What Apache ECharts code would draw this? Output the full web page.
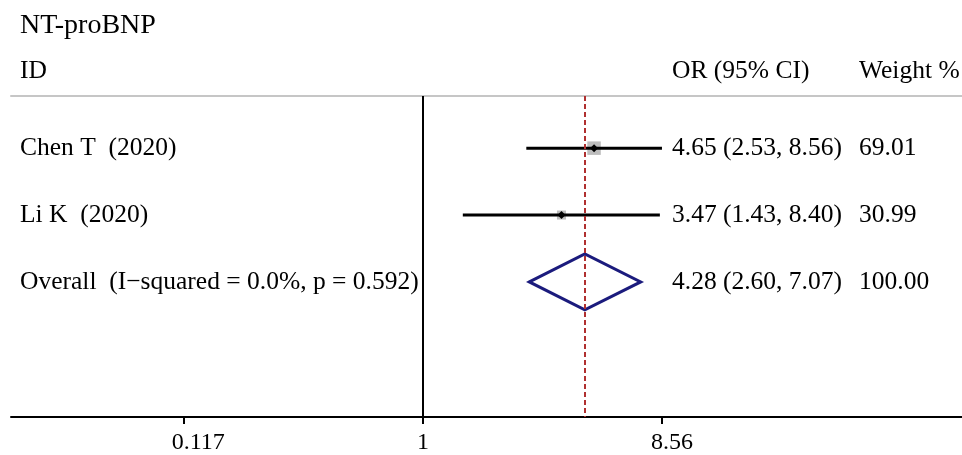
<!DOCTYPE html>
<html>
<head>
<meta charset="utf-8">
<script src="https://cdn.jsdelivr.net/npm/echarts@6/dist/echarts.min.js"></script>
<style>
  html, body { margin: 0; padding: 0; background: #fff; }
  #chart { width: 962px; height: 455px; }
</style>
</head>
<body>
<div id="chart"></div>
<script>
// Forest plot data: odds ratios with 95% confidence intervals
const studyNames = ['Chen T  (2020)', 'Li K  (2020)'];
const studyOR = [4.65, 3.47];
const studyLow = [2.53, 1.43];
const studyHigh = [8.56, 8.40];
const studyWeight = [69.01, 30.99];

const overallName = 'Overall  (I\u2212squared = 0.0%, p = 0.592)';
const overallOR = 4.28;
const overallLow = 2.60;
const overallHigh = 7.07;
const overallWeight = 100.00;

const tickValues = [0.117, 1, 8.56];
const tickLabels = ['0.117', '1', '8.56'];

const plotTitle = 'NT-proBNP';
const colId = 'ID';
const colEffect = 'OR (95% CI)';
const colWeight = 'Weight %';

// ---- styling ----
const FONT = '"Liberation Serif", "Times New Roman", serif';
const FS = 25.5;
const FS_TITLE = 28;
const FS_AXIS = 24;
const BOX_SCALE = 13.5 / Math.sqrt(69.01);   // box side grows with sqrt(weight)
const DIAMOND_HALF = 28;
const X_LEFT_TEXT = 20;
const X_EFFECT_TEXT = 672;
const X_WEIGHT_TEXT = 859;
const labelShift = { '0.117': 28, '1': 0, '8.56': 20 };

const fmt = v => v.toFixed(2);

// rows: [ln OR, ln low, ln high, row position, weight, kind]
const rows = [];
const rowText = [];
studyNames.forEach((name, i) => {
  rows.push([Math.log(studyOR[i]), Math.log(studyLow[i]), Math.log(studyHigh[i]), i, studyWeight[i], 0]);
  rowText.push({
    name: name,
    effect: fmt(studyOR[i]) + ' (' + fmt(studyLow[i]) + ', ' + fmt(studyHigh[i]) + ')',
    weight: fmt(studyWeight[i])
  });
});
rows.push([Math.log(overallOR), Math.log(overallLow), Math.log(overallHigh), studyNames.length, overallWeight, 1]);
rowText.push({
  name: overallName,
  effect: fmt(overallOR) + ' (' + fmt(overallLow) + ', ' + fmt(overallHigh) + ')',
  weight: fmt(overallWeight)
});

function textEl(str, x, y, size) {
  return {
    type: 'text',
    x: x, y: y,
    style: { text: str, font: (size || FS) + 'px ' + FONT, fill: '#000', verticalAlign: 'middle', align: 'left' }
  };
}

function renderRow(params, api) {
  const i = params.dataIndex;
  const pos = api.value(3);
  const w = api.value(4);
  const kind = api.value(5);
  const pc = api.coord([api.value(0), pos]);
  const pl = api.coord([api.value(1), pos]);
  const ph = api.coord([api.value(2), pos]);
  const y = pc[1];
  const children = [];
  if (kind === 0) {
    const s = BOX_SCALE * Math.sqrt(w);
    children.push({ type: 'rect', shape: { x: pc[0] - s / 2, y: y - s / 2, width: s, height: s }, style: { fill: '#bdbdbd' } });
    children.push({ type: 'line', shape: { x1: pl[0], y1: y, x2: ph[0], y2: y }, style: { stroke: '#000', lineWidth: 3 } });
    children.push({ type: 'polygon', shape: { points: [[pc[0] - 4, y], [pc[0], y - 4], [pc[0] + 4, y], [pc[0], y + 4]] }, style: { fill: '#000' } });
  } else {
    children.push({
      type: 'polygon',
      shape: { points: [[pl[0], y], [pc[0], y - DIAMOND_HALF], [ph[0], y], [pc[0], y + DIAMOND_HALF]] },
      style: { fill: 'none', stroke: '#1b1b7d', lineWidth: 3, lineJoin: 'miter' }
    });
  }
  children.push(textEl(rowText[i].name, X_LEFT_TEXT, y));
  children.push(textEl(rowText[i].effect, X_EFFECT_TEXT, y));
  children.push(textEl(rowText[i].weight, X_WEIGHT_TEXT, y));
  return { type: 'group', children: children };
}

const xMin = -3.702, xMax = 4.843;
const lnTicks = tickValues.map(v => Math.log(v));

const chart = echarts.init(document.getElementById('chart'), null, { renderer: 'canvas' });
chart.setOption({
  animation: false,
  backgroundColor: '#fff',
  grid: { left: 11, right: 0, top: 96, bottom: 34, containLabel: false },
  xAxis: [{
    type: 'value',
    min: xMin, max: xMax,
    splitLine: { show: false },
    axisLine: { show: true, onZero: false, lineStyle: { color: '#000', width: 2 } },
    axisTick: { show: true, length: 7, lineStyle: { color: '#000', width: 2 }, customValues: lnTicks },
    axisLabel: {
      show: true,
      margin: 14,
      customValues: lnTicks,
      fontFamily: FONT, fontSize: FS_AXIS, color: '#000',
      formatter: function (v) {
        let k = 0;
        lnTicks.forEach((t, j) => { if (Math.abs(t - v) < Math.abs(lnTicks[k] - v)) k = j; });
        return '{s' + k + '|' + tickLabels[k] + '}';
      },
      rich: {
        s0: { fontFamily: FONT, fontSize: FS_AXIS, color: '#000', padding: [0, 0, 0, labelShift['0.117']] },
        s1: { fontFamily: FONT, fontSize: FS_AXIS, color: '#000', padding: [0, 0, 0, labelShift['1']] },
        s2: { fontFamily: FONT, fontSize: FS_AXIS, color: '#000', padding: [0, 0, 0, labelShift['8.56']] }
      }
    }
  }, {
    type: 'value',
    position: 'top',
    min: xMin, max: xMax,
    splitLine: { show: false },
    axisLine: { show: true, onZero: false, lineStyle: { color: '#c6c6c6', width: 2 } },
    axisTick: { show: false },
    axisLabel: { show: false }
  }],
  yAxis: {
    type: 'value',
    inverse: true,
    min: -0.78, max: 4.02,
    show: false
  },
  graphic: [
    textEl(plotTitle, X_LEFT_TEXT, 26, FS_TITLE),
    textEl(colId, X_LEFT_TEXT, 71),
    textEl(colEffect, X_EFFECT_TEXT, 71),
    textEl(colWeight, X_WEIGHT_TEXT, 71)
  ],
  series: [{
    type: 'custom',
    clip: false,
    renderItem: renderRow,
    encode: { x: [0, 1, 2], y: 3 },
    data: rows,
    markLine: {
      silent: true,
      symbol: 'none',
      label: { show: false },
      data: [
        { xAxis: 0, lineStyle: { color: '#000', width: 2, type: 'solid' } },
        { xAxis: Math.log(overallOR), lineStyle: { color: '#b03030', width: 2, type: [5, 3] } }
      ]
    },
    z: 3
  }]
});
</script>
</body>
</html>
